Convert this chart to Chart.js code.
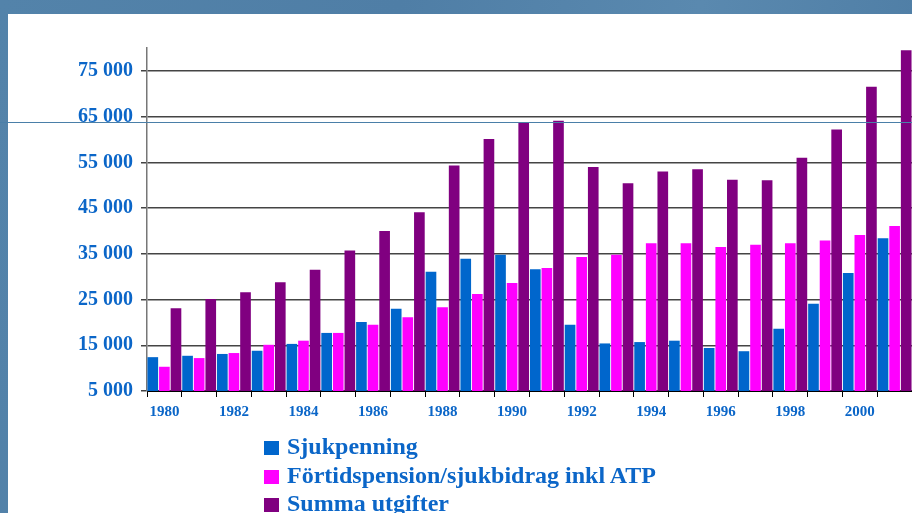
<!DOCTYPE html>
<html>
<head>
<meta charset="utf-8">
<script src="https://cdn.jsdelivr.net/npm/chart.js@4"></script>
<style>
  html, body { margin: 0; padding: 0; width: 912px; height: 513px; overflow: hidden; }
  body { background: linear-gradient(100deg, #5383aa, #4f7ea6 40%, #5a89af 70%, #4c7ba3); position: relative; }
  #panel { position: absolute; left: 8px; top: 14px; width: 904px; height: 499px; background: #fff; }
  #myChart { position: absolute; left: 0; top: 0; }
  #legend { position: absolute; left: 264px; top: 432px; font: bold 24px 'Liberation Serif', 'Times New Roman', serif; color: #0b66c8; letter-spacing: 0; }
  #legend div { height: 28.5px; line-height: 28.5px; white-space: nowrap; }
  #legend span { display: inline-block; width: 15px; height: 14px; margin-right: 8px; vertical-align: -1px; }
</style>
</head>
<body>
<div id="panel"></div>
<canvas id="myChart" width="912" height="513"></canvas>
<div id="legend"></div>
<script>
const years = ['1980', '1981', '1982', '1983', '1984', '1985', '1986', '1987', '1988', '1989', '1990',
    '1991', '1992', '1993', '1994', '1995', '1996', '1997', '1998', '1999', '2000', '2001'];

const sjukpenning = [12400, 12700, 13100, 13800, 15300, 17700, 20100, 23000, 31100, 33900, 34800,
    31600, 19500, 15400, 15700, 16000, 14400, 13700, 18600, 24100, 30800, 38400];

const fortidspension = [10300, 12200, 13300, 15100, 16000, 17700, 19500, 21100, 23300, 26200, 28600,
    31900, 34300, 34800, 37300, 37300, 36500, 37000, 37300, 37900, 39100, 41100];

const summaUtgifter = [23100, 25100, 26600, 28800, 31500, 35700, 40000, 44100, 54300, 60100, 63700,
    64100, 54000, 50400, 53000, 53500, 51200, 51100, 56000, 62200, 71500, 79500];

const yTicks = [5000, 15000, 25000, 35000, 45000, 55000, 65000, 75000];

const seriesLabels = ['Sjukpenning', 'Förtidspension/sjukbidrag inkl ATP', 'Summa utgifter'];
const seriesColors = ['#0066cc', '#ff00ff', '#800080'];

const labelBlue = '#0b66c8';
const serif = "'Liberation Serif', 'Times New Roman', serif";

function fmt(v) {
    return String(v).replace(/\B(?=(\d{3})+(?!\d))/g, ' ');
}

// thin slide rule line across the page
const slideLine = {
    id: 'slideLine',
    afterDraw(chart) {
        const c = chart.ctx;
        c.save();
        c.strokeStyle = '#4a7fa8';
        c.lineWidth = 1;
        c.beginPath();
        c.moveTo(0, 122.5);
        c.lineTo(chart.width, 122.5);
        c.stroke();
        c.restore();
    }
};

const ctx = document.getElementById('myChart').getContext('2d');

const myChart = new Chart(ctx, {
    type: 'bar',
    data: {
        labels: years,
        datasets: [sjukpenning, fortidspension, summaUtgifter].map((d, i) => ({
            label: seriesLabels[i],
            data: d,
            backgroundColor: seriesColors[i],
            borderWidth: 0,
            categoryPercentage: 1.0,
            barPercentage: 0.92
        }))
    },
    options: {
        responsive: false,
        animation: false,
        devicePixelRatio: 1,
        layout: { padding: { top: 48, right: 0, left: 0, bottom: 0 } },
        plugins: {
            legend: { display: false },
            tooltip: { enabled: false }
        },
        scales: {
            x: {
                offset: true,
                grid: { offset: true, drawOnChartArea: false, tickLength: 6, color: '#000', lineWidth: 1 },
                border: { color: '#000', width: 1 },
                ticks: {
                    autoSkip: false,
                    maxRotation: 0,
                    padding: 6,
                    color: labelBlue,
                    font: { family: serif, weight: 'bold', size: 15 },
                    callback: (v, i) => (i % 2 === 0 ? years[i] : '')
                },
                afterFit: (scale) => { scale.height = 122; }
            },
            y: {
                min: 5000,
                max: 80000,
                afterBuildTicks: (scale) => {
                    scale.ticks = yTicks.map(v => ({ value: v }));
                },
                grid: { color: '#444', lineWidth: 1.5, tickLength: 6 },
                border: { color: '#777', width: 1.5 },
                ticks: {
                    padding: 8,
                    color: labelBlue,
                    font: { family: serif, weight: 'bold', size: 20 },
                    callback: (v) => fmt(v)
                },
                afterFit: (scale) => { scale.width = 147; }
            }
        }
    },
    plugins: [slideLine]
});

// legend in one column, as on the slide
const legend = document.getElementById('legend');
seriesLabels.forEach((t, i) => {
    const row = document.createElement('div');
    const sw = document.createElement('span');
    sw.style.background = seriesColors[i];
    row.appendChild(sw);
    row.appendChild(document.createTextNode(t));
    legend.appendChild(row);
});
</script>
</body>
</html>
